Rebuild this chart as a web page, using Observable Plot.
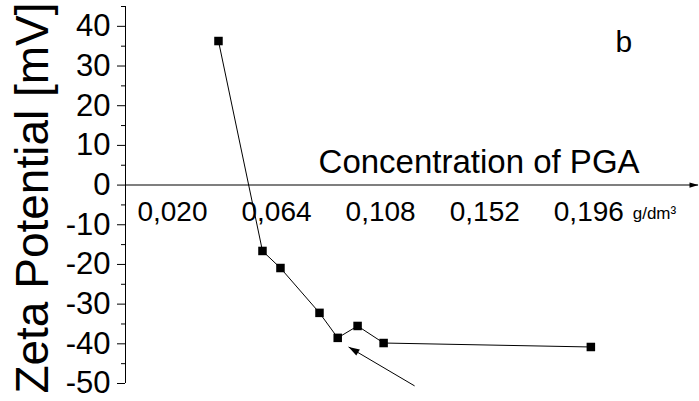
<!DOCTYPE html>
<html>
<head>
<meta charset="utf-8">
<script src="https://cdn.jsdelivr.net/npm/d3@7"></script>
<script src="https://cdn.jsdelivr.net/npm/@observablehq/plot@0.6"></script>
<style>
  html, body { margin: 0; padding: 0; background: white; }
</style>
</head>
<body>
<div id="chart"></div>
<script>
const concentration = [0.0403, 0.0589, 0.0665, 0.0830, 0.0907, 0.0991, 0.1101, 0.1977];
const zeta = [36.3, -16.6, -20.9, -32.2, -38.5, -35.5, -39.8, -40.8];
const xTickValues = [0.020, 0.064, 0.108, 0.152, 0.196];
const xTickLabels = ["0,020", "0,064", "0,108", "0,152", "0,196"];
const yTicks = [-50, -40, -30, -20, -10, 0, 10, 20, 30, 40];
const yMinorTicks = [-45, -35, -25, -15, -5, 5, 15, 25, 35, 45];
const xDomain = [0.001, 0.2432];
const yDomain = [-50, 45];

const data = concentration.map((c, i) => ({c, z: zeta[i]}));
const xTicks = xTickValues.map((v, i) => ({v, label: xTickLabels[i]}));
const annotation = [{x1: 0.1232, y1: -50.6, x2: 0.0953, y2: -40.8}];

const triangleRight = (len, half) => ({
  draw(ctx) {
    ctx.moveTo(0, 0);
    ctx.lineTo(-len, -half);
    ctx.lineTo(-len, half);
    ctx.closePath();
  }
});

const font = "Liberation Sans, Arial, Helvetica, sans-serif";

const chart = Plot.plot({
  width: 699,
  height: 401,
  marginLeft: 125,
  marginRight: 1,
  marginTop: 6,
  marginBottom: 18,
  style: {fontFamily: font, background: "white", color: "black"},
  x: {domain: xDomain, axis: null},
  y: {domain: yDomain},
  marks: [
    // x axis line with arrow
    Plot.ruleY([0], {stroke: "#555", strokeWidth: 1.5}),
    Plot.dot([xDomain[1]], {x: d => d, y: 0, symbol: triangleRight(9, 2.7), fill: "black", stroke: "none", clip: false}),
    // y axis
    Plot.ruleX([xDomain[0]], {stroke: "black", strokeWidth: 1}),
    Plot.axisY({ticks: yTicks, tickSize: 8, tickPadding: 7, fontSize: 31, tickFormat: d => String(d), label: null, stroke: "black"}),
    Plot.axisY({ticks: yMinorTicks, tickSize: 4, tickFormat: () => "", label: null, stroke: "black"}),
    // x tick labels
    Plot.text(xTicks, {x: "v", y: 0, dy: 27, dx: 2, text: "label", fontSize: 28, textAnchor: "middle", fill: "black"}),
    Plot.text(["g/dm³"], {x: 0.2154, y: 0, dy: 28, text: d => d, fontSize: 17, textAnchor: "start", fill: "black"}),
    // axis titles
    Plot.text(["Concentration of PGA"], {x: 0.0826, y: 3, text: d => d, fontSize: 33, textAnchor: "start", lineAnchor: "bottom", fill: "black"}),
    Plot.text(["Zeta Potential [mV]"], {frameAnchor: "left", dx: -78, dy: 3, rotate: -90, text: d => d, fontSize: 46, textAnchor: "middle", lineAnchor: "bottom", fill: "black"}),
    Plot.text(["b"], {x: 0.2116, y: 33.5, text: d => d, fontSize: 30, textAnchor: "middle", lineAnchor: "bottom", fill: "black"}),
    // data
    Plot.line(data, {x: "c", y: "z", stroke: "black", strokeWidth: 1}),
    Plot.dot(data, {x: "c", y: "z", symbol: "square", r: 4.8, fill: "black", stroke: "none"}),
    // annotation arrow
    Plot.link(annotation, {x1: "x1", y1: "y1", x2: "x2", y2: "y2", stroke: "black", strokeWidth: 1, clip: false}),
    Plot.dot(annotation, {x: "x2", y: "y2", symbol: triangleRight(11, 3.5), rotate: 210.6, fill: "black", stroke: "none", clip: false})
  ]
});
document.getElementById("chart").appendChild(chart);
</script>
</body>
</html>
